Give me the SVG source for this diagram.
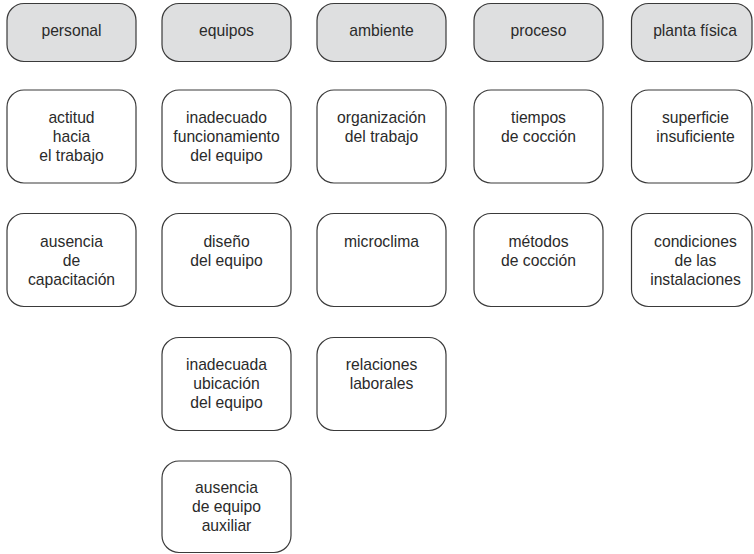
<svg xmlns="http://www.w3.org/2000/svg" width="754" height="554" viewBox="0 0 754 554">
<style>
.h rect{fill:#dedfe0;stroke:#3a3a3a;stroke-width:1.2}
.n rect{fill:#fff;stroke:#3a3a3a;stroke-width:1.2}
text{font-family:"Liberation Sans",Arial,sans-serif;font-size:15.7px;fill:#2a2a2a;text-anchor:middle}
</style>
<rect width="754" height="554" fill="#fff"/>
<g id="personal" class="h"><rect x="7" y="3.5" width="129" height="58" rx="17"/><text x="71.5" y="35.5">personal</text></g>
<g id="equipos" class="h"><rect x="162" y="3.5" width="129" height="58" rx="17"/><text x="226.5" y="35.5">equipos</text></g>
<g id="ambiente" class="h"><rect x="317" y="3.5" width="129" height="58" rx="17"/><text x="381.5" y="35.5">ambiente</text></g>
<g id="proceso" class="h"><rect x="474" y="3.5" width="129" height="58" rx="17"/><text x="538.5" y="35.5">proceso</text></g>
<g id="planta" class="h"><rect x="631.5" y="3.5" width="120.5" height="58" rx="17"/><text x="695" y="35.5">planta física</text></g>

<g id="actitud" class="n"><rect x="7" y="90" width="129" height="93" rx="17"/><text x="71.5" y="123">actitud</text><text x="71.5" y="142">hacia</text><text x="71.5" y="161">el trabajo</text></g>
<g id="funcionamiento" class="n"><rect x="162" y="90" width="129" height="93" rx="17"/><text x="226.5" y="123">inadecuado</text><text x="226.5" y="142">funcionamiento</text><text x="226.5" y="161">del equipo</text></g>
<g id="organizacion" class="n"><rect x="317" y="90" width="129" height="93" rx="17"/><text x="381.5" y="123">organización</text><text x="381.5" y="142">del trabajo</text></g>
<g id="tiempos" class="n"><rect x="474" y="90" width="129" height="93" rx="17"/><text x="538.5" y="123">tiempos</text><text x="538.5" y="142">de cocción</text></g>
<g id="superficie" class="n"><rect x="631.5" y="90" width="120.5" height="93" rx="17"/><text x="695.5" y="123">superficie</text><text x="695.5" y="142">insuficiente</text></g>

<g id="capacitacion" class="n"><rect x="7" y="213.5" width="129" height="93" rx="17"/><text x="71.5" y="247">ausencia</text><text x="71.5" y="266">de</text><text x="71.5" y="285">capacitación</text></g>
<g id="diseno" class="n"><rect x="162" y="213.5" width="129" height="93" rx="17"/><text x="226.5" y="247">diseño</text><text x="226.5" y="266">del equipo</text></g>
<g id="microclima" class="n"><rect x="317" y="213.5" width="129" height="93" rx="17"/><text x="381.5" y="247">microclima</text></g>
<g id="metodos" class="n"><rect x="474" y="213.5" width="129" height="93" rx="17"/><text x="538.5" y="247">métodos</text><text x="538.5" y="266">de cocción</text></g>
<g id="condiciones" class="n"><rect x="631.5" y="213.5" width="120.5" height="93" rx="17"/><text x="695.5" y="247">condiciones</text><text x="695.5" y="266">de las</text><text x="695.5" y="285">instalaciones</text></g>

<g id="ubicacion" class="n"><rect x="162" y="337.5" width="129" height="93" rx="17"/><text x="226.5" y="370">inadecuada</text><text x="226.5" y="389">ubicación</text><text x="226.5" y="408">del equipo</text></g>
<g id="relaciones" class="n"><rect x="317" y="337.5" width="129" height="93" rx="17"/><text x="381.5" y="370">relaciones</text><text x="381.5" y="389">laborales</text></g>

<g id="auxiliar" class="n"><rect x="162" y="461" width="129" height="91.5" rx="17"/><text x="226.5" y="493">ausencia</text><text x="226.5" y="512">de equipo</text><text x="226.5" y="531">auxiliar</text></g>
<g id="connectors"/>
</svg>
